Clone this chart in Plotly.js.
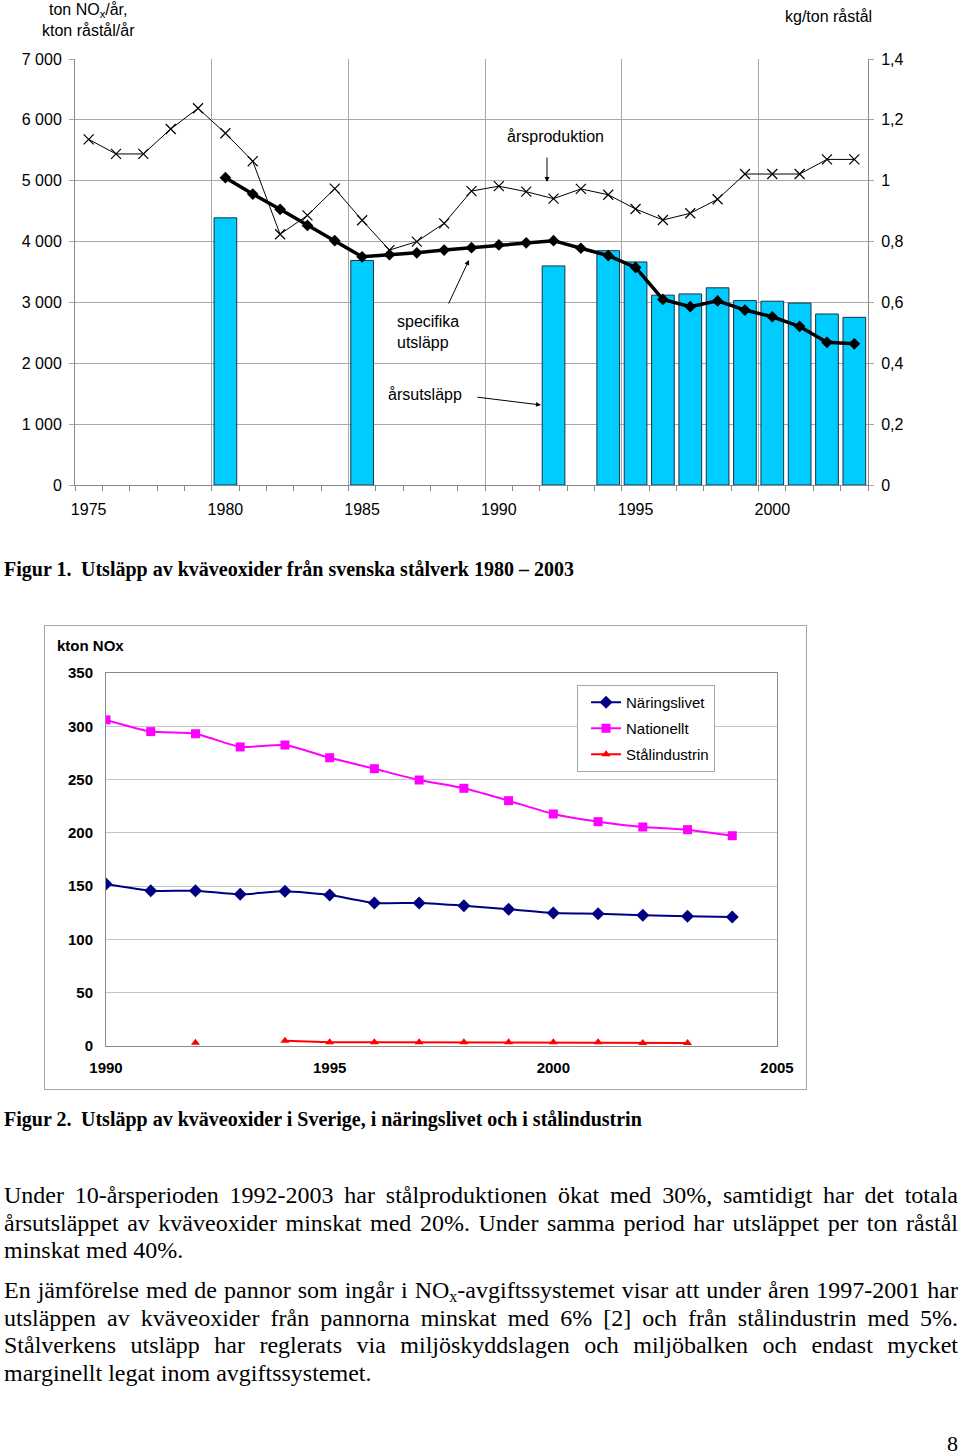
<!DOCTYPE html>
<html>
<head>
<meta charset="utf-8">
<script src="https://cdn.plot.ly/plotly-3.0.1.min.js"></script>
<style>
  html, body { margin:0; padding:0; background:#fff; }
  #page { position:relative; width:960px; height:1455px; overflow:hidden; }
  #c1 { position:absolute; left:0; top:0; width:960px; height:540px; }
  #box2 { position:absolute; left:44px; top:625px; width:763px; height:465px; box-sizing:border-box; border:1px solid #a6a6a6; }
  #c2 { position:absolute; left:0; top:0; width:761px; height:463px; }
  .cap { position:absolute; left:4px; font-family:"Liberation Serif","Times New Roman",serif; font-weight:bold; font-size:20px; line-height:24px; white-space:nowrap; color:#000; }
  .cap .lab { display:inline-block; width:77px; }
  #text { position:absolute; left:4px; top:1182px; width:954px; font-family:"Liberation Serif","Times New Roman",serif; font-size:24px; line-height:27.5px; text-align:justify; color:#000; }
  #text p { margin:0 0 12.5px 0; }
  #text sub { font-size:16px; line-height:0; vertical-align:-4px; }
  #pnum { position:absolute; right:2px; top:1434px; font-family:"Liberation Serif","Times New Roman",serif; font-size:22px; line-height:20px; }
</style>
</head>
<body>
<div id="page">
  <div id="c1"></div>
  <div class="cap" style="top:557px;"><span class="lab">Figur 1.</span>Utsläpp av kväveoxider från svenska stålverk 1980 – 2003</div>
  <div id="box2"><div id="c2"></div></div>
  <div class="cap" style="top:1107px;"><span class="lab">Figur 2.</span>Utsläpp av kväveoxider i Sverige, i näringslivet och i stålindustrin</div>
  <div id="text">
    <p>Under 10-årsperioden 1992-2003 har stålproduktionen ökat med 30%, samtidigt har det totala årsutsläppet av kväveoxider minskat med 20%. Under samma period har utsläppet per ton råstål minskat med 40%.</p>
    <p>En jämförelse med de pannor som ingår i NO<sub>x</sub>-avgiftssystemet visar att under åren 1997-2001 har utsläppen av kväveoxider från pannorna minskat med 6% [2] och från stålindustrin med 5%. Stålverkens utsläpp har reglerats via miljöskyddslagen och miljöbalken och endast mycket marginellt legat inom avgiftssystemet.</p>
  </div>
  <div id="pnum">8</div>
</div>
<script>
// ---------- Figure 1 data ----------
const prodYears = [1975,1976,1977,1978,1979,1980,1981,1982,1983,1984,1985,1986,1987,1988,1989,1990,1991,1992,1993,1994,1995,1996,1997,1998,1999,2000,2001,2002,2003];
const prodValues = [5680,5440,5440,5850,6190,5780,5320,4120,4430,4870,4350,3860,4000,4300,4830,4910,4820,4705,4865,4770,4535,4355,4465,4695,5110,5110,5110,5350,5350];
const specYears = [1980,1981,1982,1983,1984,1985,1986,1987,1988,1989,1990,1991,1992,1993,1994,1995,1996,1997,1998,1999,2000,2001,2002,2003];
const specValues = [1.01,0.956,0.906,0.853,0.803,0.750,0.757,0.763,0.772,0.780,0.789,0.796,0.803,0.778,0.754,0.715,0.610,0.586,0.605,0.575,0.553,0.521,0.469,0.464];
const emisYears = [1980,1985,1992,1994,1995,1996,1997,1998,1999,2000,2001,2002,2003];
const emisValues = [4390,3690,3600,3850,3665,3120,3140,3240,3030,3020,2990,2810,2755];
const xLabelYears = [1975,1980,1985,1990,1995,2000];

// ---------- Figure 2 data ----------
const years2 = [1990,1991,1992,1993,1994,1995,1996,1997,1998,1999,2000,2001,2002,2003,2004];
const naringslivet = [152,145.7,145.7,142.3,145.1,141.7,134.2,134.2,131.7,128.3,124.8,124.2,122.6,121.7,121.0];
const nationellt = [306,295,293,280.6,282.4,270.5,260.2,249.6,241.8,230.2,217.7,210.5,205.5,203,197.3];
const stalindustrin = [null,null,3,null,5,3.5,3.5,3.5,3.5,3.5,3.5,3.5,2.8,2.8,null];
const xTicks2 = [1990,1995,2000,2005];

const FONT = '"Liberation Sans", Arial, sans-serif';

// ---------- Figure 1 ----------
(function(){
  const W = 960, H = 540, mL = 75, mR = 92, mT = 59, mB = 55;
  const xMin = prodYears[0] - 0.5, xMax = prodYears[prodYears.length-1] + 0.5;
  const traces = [
    { type:'bar', x:emisYears, y:emisValues, name:'årsutsläpp', xaxis:'x', yaxis:'y',
      marker:{ color:'#00CCFF', line:{ color:'#17324a', width:1 } } },
    { type:'scatter', mode:'lines+markers', x:prodYears, y:prodValues, name:'årsproduktion', xaxis:'x2', yaxis:'y',
      line:{ color:'#000', width:1 },
      marker:{ symbol:'x-thin', size:10, color:'#000', line:{ color:'#000', width:1.2 } } },
    { type:'scatter', mode:'lines+markers', x:specYears, y:specValues, name:'specifika utsläpp', xaxis:'x2', yaxis:'y2',
      line:{ color:'#000', width:3.5 },
      marker:{ symbol:'diamond', size:9, color:'#000' } }
  ];
  const gridC = '#a8a8a8', lineC = '#8a8a8a';
  const layout = {
    width:W, height:H, margin:{ l:mL, r:mR, t:mT, b:mB, pad:0 },
    paper_bgcolor:'#fff', plot_bgcolor:'#fff',
    showlegend:false, separators:', ', bargap:0.17,
    font:{ family:FONT, size:16, color:'#000' },
    xaxis:{ range:[xMin, xMax], tickmode:'array', tickvals:xLabelYears, ticktext:xLabelYears.map(String),
      ticks:'', showgrid:false, showline:true, linecolor:lineC, linewidth:1, zeroline:false, ticklabelstandoff:10,
      minor:{ dtick:1, tick0:0.5, ticks:'outside', ticklen:5, tickcolor:lineC, showgrid:false },
      tickfont:{ family:FONT, size:16 } },
    xaxis2:{ overlaying:'x', side:'bottom', range:[xMin, xMax], tickmode:'array',
      tickvals:xLabelYears.map(v => v - 0.5), showticklabels:false, ticks:'',
      showgrid:true, gridcolor:gridC, gridwidth:1, showline:false, zeroline:false },
    yaxis:{ range:[0,7000], dtick:1000, tickformat:',', showgrid:true, gridcolor:gridC, gridwidth:1,
      showline:true, linecolor:lineC, ticks:'outside', ticklen:5, tickcolor:gridC, zeroline:false,
      ticklabelstandoff:4, tickfont:{ family:FONT, size:16 } },
    yaxis2:{ overlaying:'y', side:'right', range:[0,1.4], dtick:0.2, showgrid:false,
      showline:true, linecolor:lineC, ticks:'outside', ticklen:5, tickcolor:gridC, zeroline:false,
      ticklabelstandoff:4, tickfont:{ family:FONT, size:16 } },
    annotations:[
      { xref:'paper', yref:'paper', x:0.6053, y:0.8192, text:'årsproduktion', showarrow:false, xanchor:'center', yanchor:'middle', font:{ size:16 } },
      { xref:'paper', yref:'paper', x:0.5952, y:0.7113, text:'', showarrow:true, ax:0, ay:-26, arrowhead:2, arrowsize:1, arrowwidth:1, arrowcolor:'#000' },
      { xref:'paper', yref:'paper', x:0.4035, y:0.3603, text:'specifika<br>utsläpp', showarrow:false, xanchor:'left', yanchor:'middle', align:'left', font:{ size:16 } },
      { xref:'paper', yref:'paper', x:0.4968, y:0.5282, text:'', showarrow:true, ax:-21, ay:45, arrowhead:2, arrowsize:1, arrowwidth:1, arrowcolor:'#000' },
      { xref:'paper', yref:'paper', x:0.3922, y:0.2113, text:'årsutsläpp', showarrow:false, xanchor:'left', yanchor:'middle', font:{ size:16 } },
      { xref:'paper', yref:'paper', x:0.5876, y:0.1878, text:'', showarrow:true, ax:-65, ay:-8, arrowhead:2, arrowsize:1, arrowwidth:1, arrowcolor:'#000' },
      { xref:'paper', yref:'paper', x:0.0164, y:1.0904, text:'ton NO<sub>x</sub>/år,<br>kton råstål/år', showarrow:false, xanchor:'center', yanchor:'middle', align:'center', font:{ size:16 } },
      { xref:'paper', yref:'paper', x:0.9496, y:1.0986, text:'kg/ton råstål', showarrow:false, xanchor:'center', yanchor:'middle', font:{ size:16 } }
    ]
  };
  Plotly.newPlot('c1', traces, layout, { staticPlot:true, displayModeBar:false });
})();

// ---------- Figure 2 ----------
(function(){
  const W = 761, H = 463;
  const traces = [
    { type:'scatter', mode:'lines+markers', x:years2, y:naringslivet, name:'Näringslivet', legendgroup:'a',
      line:{ color:'#000080', width:2, shape:'spline', smoothing:0.5 },
      marker:{ symbol:'diamond', size:10, color:'#000080' } },
    { type:'scatter', mode:'lines+markers', x:years2, y:nationellt, name:'Nationellt', legendgroup:'b',
      line:{ color:'#FF00FF', width:2, shape:'spline', smoothing:0.5 },
      marker:{ symbol:'square', size:9, color:'#FF00FF' } },
    { type:'scatter', mode:'lines+markers', x:years2, y:stalindustrin, name:'Stålindustrin', legendgroup:'c',
      connectgaps:false,
      line:{ color:'#FF0000', width:2 },
      marker:{ symbol:'triangle-up', size:8, color:'#FF0000' } }
  ];
  const layout = {
    width:W, height:H, margin:{ l:61, r:29, t:47, b:43, pad:0 },
    paper_bgcolor:'#fff', plot_bgcolor:'#fff',
    font:{ family:FONT, size:15, color:'#000' },
    showlegend:true,
    legend:{ x:0.702, y:0.9678, xanchor:'left', yanchor:'top', bgcolor:'#fff', bordercolor:'#a6a6a6', borderwidth:1,
      font:{ family:FONT, size:15, color:'#000' }, traceorder:'grouped', tracegroupgap:3.5, indentation:8 },
    xaxis:{ range:[xTicks2[0], xTicks2[xTicks2.length-1]], tickmode:'array', tickvals:xTicks2, ticktext:xTicks2.map(String),
      showgrid:false, showline:true, mirror:true, linecolor:'#8a8a8a', ticks:'', zeroline:false, ticklabelstandoff:8,
      tickfont:{ family:FONT, size:15, weight:'bold' } },
    yaxis:{ range:[0,350], dtick:50, showgrid:true, gridcolor:'#c4c4c4', showline:true, mirror:true, linecolor:'#8a8a8a',
      ticks:'', zeroline:false, ticklabelstandoff:9, tickfont:{ family:FONT, size:15, weight:'bold' } },
    annotations:[
      { xref:'paper', yref:'paper', x:-0.0238, y:1.0724, text:'kton NOx', showarrow:false, xanchor:'center', yanchor:'middle',
        font:{ family:FONT, size:15, weight:'bold' } }
    ]
  };
  Plotly.newPlot('c2', traces, layout, { staticPlot:true, displayModeBar:false });
})();
</script>
</body>
</html>
